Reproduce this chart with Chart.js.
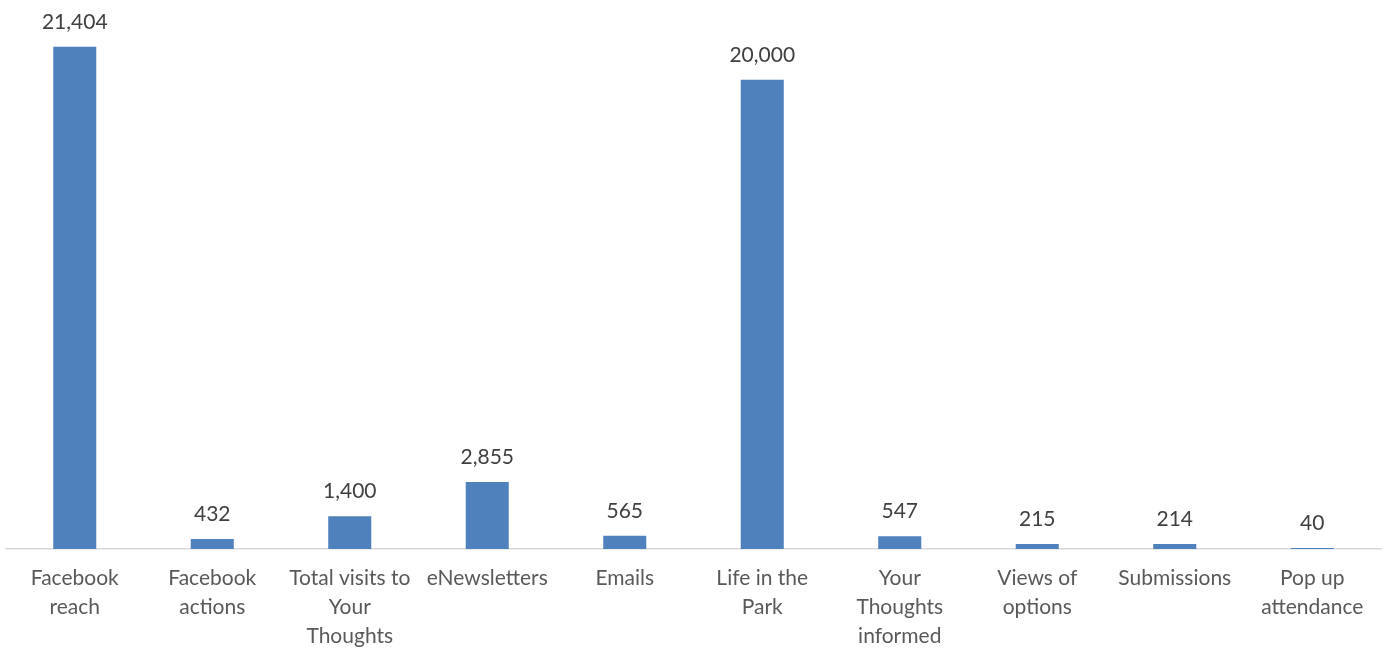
<!DOCTYPE html>
<html>
<head>
<meta charset="utf-8">
<script src="https://cdn.jsdelivr.net/npm/chart.js@4/dist/chart.umd.min.js"></script>
<style>
  html, body { margin: 0; padding: 0; background: #fff; }
  #wrap { width: 1388px; height: 650px; }
</style>
</head>
<body>
<div id="wrap"><canvas id="grafica" width="1388" height="650"></canvas></div>
<script>
var categorias = [
    ["Facebook", "reach"],
    ["Facebook", "actions"],
    ["Total visits to", "Your", "Thoughts"],
    "eNewsletters",
    "Emails",
    ["Life in the", "Park"],
    ["Your", "Thoughts", "informed"],
    ["Views of", "options"],
    "Submissions",
    ["Pop up", "attendance"]
];
var valores = [21404, 432, 1400, 2855, 565, 20000, 547, 215, 214, 40];

var fuente = "Lato, 'Open Sans', sans-serif";

// escribe el valor encima de cada barra
var etiquetasValor = {
    id: "etiquetasValor",
    afterDatasetsDraw: function (chart) {
        var ctx = chart.ctx;
        var meta = chart.getDatasetMeta(0);
        ctx.save();
        ctx.font = "21px " + fuente;
        ctx.fillStyle = "#404040";
        ctx.textAlign = "center";
        ctx.textBaseline = "middle";
        meta.data.forEach(function (barra, i) {
            ctx.fillText(valores[i].toLocaleString("en-US"), barra.x, barra.y - 25);
        });
        ctx.restore();
    }
};

var ctx = document.getElementById("grafica").getContext("2d");
var grafica = new Chart(ctx, {
    type: "bar",
    data: {
        labels: categorias,
        datasets: [{
            data: valores,
            backgroundColor: "#4f81bd",
            borderWidth: 0,
            categoryPercentage: 1,
            barPercentage: 0.313
        }]
    },
    options: {
        responsive: false,
        animation: false,
        layout: { padding: { left: 6, right: 7, top: 0, bottom: -16 } },
        plugins: {
            legend: { display: false },
            tooltip: { enabled: false }
        },
        scales: {
            x: {
                grid: { display: false, drawTicks: false },
                border: { display: true, color: "#d9d9d9", width: 1.5 },
                ticks: {
                    padding: 15,
                    color: "#595959",
                    maxRotation: 0,
                    autoSkip: false,
                    font: { family: fuente, size: 21, lineHeight: 1.38 }
                }
            },
            y: {
                display: false,
                min: 0,
                max: 23400
            }
        }
    },
    plugins: [etiquetasValor]
});
</script>
</body>
</html>
